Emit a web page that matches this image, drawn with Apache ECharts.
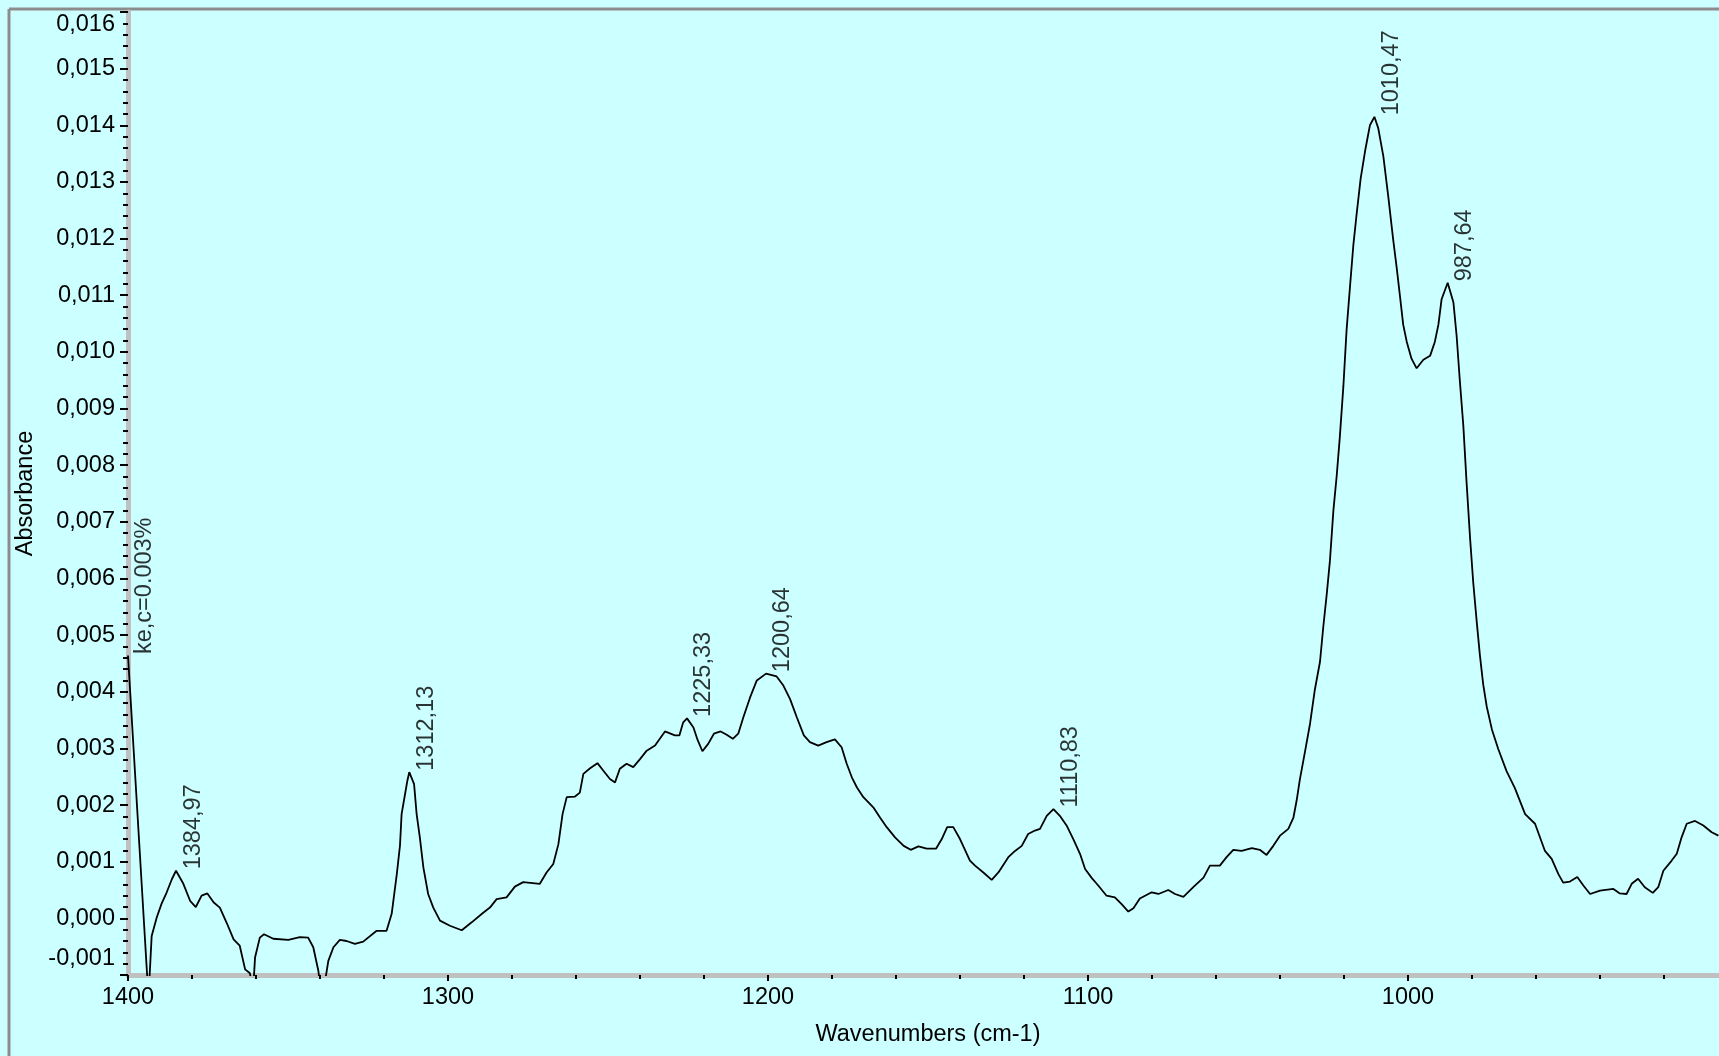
<!DOCTYPE html>
<html>
<head>
<meta charset="utf-8">
<title>Absorbance spectrum</title>
<script src="https://cdn.jsdelivr.net/npm/echarts@6/dist/echarts.min.js"></script>
<style>
  html, body { margin: 0; padding: 0; background: #ccffff; }
  #main { width: 1719px; height: 1056px; }
</style>
</head>
<body>
<div id="main"></div>
<script>
// wavenumbers (cm-1), left to right
const wavenumbers = [
  1400.0, 1393.6, 1392.6, 1391.0, 1389.5, 1387.9, 1386.3, 1385.0, 1382.7, 1380.6,
  1378.8, 1377.0, 1375.2, 1373.2, 1371.3, 1369.0, 1367.0, 1365.1, 1363.4, 1361.9,
  1360.9, 1360.3, 1358.8, 1357.5, 1354.6, 1349.9, 1346.3, 1343.7, 1342.1, 1340.5,
  1339.4, 1337.4, 1335.8, 1333.8, 1331.7, 1329.1, 1326.5, 1322.3, 1319.2, 1317.6,
  1316.0, 1315.0, 1314.5, 1313.4, 1312.7, 1312.1, 1310.6, 1309.8, 1308.8, 1307.7,
  1306.2, 1304.6, 1302.5, 1299.4, 1295.7, 1292.6, 1289.0, 1286.9, 1284.8, 1281.7,
  1279.1, 1276.5, 1271.3, 1269.2, 1267.1, 1265.5, 1264.2, 1262.9, 1260.3, 1258.8,
  1257.7, 1255.6, 1253.3, 1251.5, 1249.4, 1247.8, 1246.3, 1244.2, 1242.1, 1240.0,
  1237.9, 1235.3, 1232.2, 1229.1, 1227.7, 1226.5, 1225.3, 1223.3, 1222.0, 1220.5,
  1218.7, 1216.9, 1214.8, 1212.9, 1211.0, 1209.3, 1207.7, 1205.6, 1203.5, 1200.6,
  1197.3, 1195.2, 1193.1, 1191.0, 1188.8, 1186.9, 1184.3, 1181.7, 1179.1, 1177.0,
  1175.4, 1173.8, 1172.2, 1170.2, 1167.1, 1165.0, 1162.9, 1160.3, 1157.6, 1155.4,
  1153.0, 1150.4, 1147.5, 1145.7, 1144.0, 1142.1, 1140.0, 1138.3, 1136.9, 1135.3,
  1132.7, 1130.1, 1128.0, 1124.9, 1122.8, 1120.7, 1118.7, 1116.6, 1115.0, 1112.9,
  1110.8, 1108.8, 1106.7, 1104.6, 1102.5, 1100.9, 1098.8, 1096.8, 1094.2, 1091.6,
  1089.5, 1087.4, 1085.8, 1083.8, 1080.1, 1078.0, 1074.9, 1072.8, 1070.2, 1067.1,
  1063.9, 1061.9, 1058.8, 1056.7, 1054.6, 1052.0, 1048.8, 1046.3, 1044.2, 1042.1,
  1040.0, 1037.4, 1035.8, 1034.8, 1033.8, 1032.2, 1030.6, 1029.1, 1027.5, 1026.5,
  1025.4, 1024.4, 1023.3, 1022.3, 1021.3, 1020.2, 1019.2, 1018.1, 1017.1, 1016.0,
  1014.8, 1013.4, 1011.9, 1010.5, 1009.3, 1007.7, 1006.2, 1004.6, 1003.5, 1002.5,
  1001.5, 1000.4, 998.9, 997.3, 995.2, 993.1, 991.6, 990.5, 989.5, 987.6,
  985.8, 984.8, 983.8, 982.7, 981.7, 980.6, 979.6, 978.5, 977.5, 976.5,
  975.4, 973.8, 971.8, 969.2, 966.6, 963.4, 960.3, 957.2, 955.1, 953.0,
  951.5, 949.4, 947.1, 945.2, 943.1, 940.0, 935.8, 933.8, 931.7, 930.1,
  928.1, 926.0, 923.5, 921.8, 920.2, 917.6, 916.0, 914.5, 912.9, 910.3,
  907.7, 905.1, 903.0
];

const absorbance = [
  0.00464, -0.00140, -0.00031, 0.00002, 0.00026, 0.00046, 0.00069, 0.00084, 0.00061, 0.00031,
  0.00020, 0.00040, 0.00044, 0.00028, 0.00019, -0.00010, -0.00037, -0.00048, -0.00090, -0.00097,
  -0.00128, -0.00069, -0.00034, -0.00028, -0.00036, -0.00038, -0.00033, -0.00034, -0.00051, -0.00093,
  -0.00146, -0.00075, -0.00051, -0.00038, -0.00040, -0.00045, -0.00041, -0.00022, -0.00022, 0.00008,
  0.00078, 0.00129, 0.00184, 0.00220, 0.00243, 0.00258, 0.00237, 0.00184, 0.00143, 0.00090,
  0.00043, 0.00019, -0.00004, -0.00013, -0.00021, -0.00007, 0.00010, 0.00019, 0.00034, 0.00037,
  0.00056, 0.00064, 0.00061, 0.00081, 0.00096, 0.00131, 0.00184, 0.00214, 0.00215, 0.00222,
  0.00255, 0.00265, 0.00274, 0.00261, 0.00246, 0.00240, 0.00264, 0.00273, 0.00267, 0.00281,
  0.00296, 0.00305, 0.00330, 0.00323, 0.00323, 0.00346, 0.00353, 0.00337, 0.00315, 0.00295,
  0.00308, 0.00326, 0.00330, 0.00324, 0.00317, 0.00326, 0.00355, 0.00390, 0.00420, 0.00432,
  0.00427, 0.00411, 0.00387, 0.00355, 0.00323, 0.00311, 0.00305, 0.00311, 0.00316, 0.00302,
  0.00273, 0.00249, 0.00231, 0.00214, 0.00196, 0.00178, 0.00161, 0.00143, 0.00128, 0.00121,
  0.00127, 0.00123, 0.00123, 0.00140, 0.00161, 0.00161, 0.00140, 0.00119, 0.00102, 0.00093,
  0.00081, 0.00068, 0.00081, 0.00108, 0.00119, 0.00128, 0.00149, 0.00155, 0.00158, 0.00181,
  0.00193, 0.00181, 0.00164, 0.00140, 0.00114, 0.00087, 0.00071, 0.00058, 0.00040, 0.00037,
  0.00025, 0.00012, 0.00018, 0.00035, 0.00046, 0.00043, 0.00050, 0.00043, 0.00038, 0.00055,
  0.00072, 0.00093, 0.00093, 0.00108, 0.00121, 0.00119, 0.00124, 0.00121, 0.00112, 0.00128,
  0.00146, 0.00158, 0.00178, 0.00208, 0.00245, 0.00294, 0.00344, 0.00404, 0.00453, 0.00513,
  0.00572, 0.00631, 0.00721, 0.00780, 0.00850, 0.00939, 0.01038, 0.01117, 0.01187, 0.01246,
  0.01306, 0.01355, 0.01400, 0.01415, 0.01395, 0.01345, 0.01276, 0.01197, 0.01147, 0.01098,
  0.01048, 0.01018, 0.00988, 0.00971, 0.00986, 0.00993, 0.01018, 0.01048, 0.01093, 0.01122,
  0.01087, 0.01028, 0.00949, 0.00869, 0.00770, 0.00671, 0.00592, 0.00522, 0.00463, 0.00413,
  0.00374, 0.00334, 0.00299, 0.00260, 0.00230, 0.00184, 0.00167, 0.00119, 0.00105, 0.00078,
  0.00063, 0.00065, 0.00073, 0.00058, 0.00043, 0.00049, 0.00052, 0.00044, 0.00043, 0.00061,
  0.00070, 0.00055, 0.00045, 0.00055, 0.00084, 0.00102, 0.00114, 0.00143, 0.00167, 0.00172,
  0.00164, 0.00152, 0.00146
];

// peak picks written on the spectrum, plus the sample name at the first point
const peakX = [1400.0, 1384.97, 1312.13, 1225.33, 1200.64, 1110.83, 1010.47, 987.64];
const peakY = [0.00464, 0.00084, 0.00258, 0.00353, 0.00432, 0.00193, 0.01415, 0.01122];
const peakNames = ['ke,c=0.003%', '1384,97', '1312,13', '1225,33', '1200,64', '1110,83', '1010,47', '987,64'];

const fontName = '"Liberation Sans", Arial, sans-serif';
const fs = 23.5;

function yLabel(v) {
  if (Math.abs(v) < 1e-9) v = 0;
  return v.toFixed(3).replace('.', ',');
}

const chart = echarts.init(document.getElementById('main'), null, { renderer: 'canvas' });

const lineData = wavenumbers.map((w, i) => [w, absorbance[i]]);
const peakData = peakX.map((w, i) => [w, peakY[i]]);

chart.setOption({
  animation: false,
  backgroundColor: '#ccffff',
  textStyle: { fontFamily: fontName },
  grid: { left: 128, top: 12, right: -9, bottom: 81, containLabel: false, outerBoundsMode: 'none' },
  xAxis: {
    type: 'value',
    inverse: true,
    min: 900,
    max: 1400,
    interval: 100,
    name: 'Wavenumbers (cm-1)',
    nameLocation: 'middle',
    nameGap: 48,
    nameTextStyle: { color: '#000', fontSize: fs, fontFamily: fontName },
    axisLine: { show: true, onZero: false, lineStyle: { color: '#c0c0c0', width: 5 } },
    axisTick: { show: true, length: 6, lineStyle: { color: '#000', width: 2 } },
    minorTick: { show: true, splitNumber: 5, length: 4, lineStyle: { color: '#000', width: 2 } },
    axisLabel: {
      color: '#000', fontSize: fs, fontFamily: fontName, margin: 11,
      formatter: v => (v < 950 ? '' : String(v))
    },
    splitLine: { show: false }
  },
  yAxis: {
    type: 'value',
    min: -0.001,
    max: 0.016,
    interval: 0.001,
    name: 'Absorbance',
    nameLocation: 'middle',
    nameGap: 90,
    nameTextStyle: { color: '#000', fontSize: fs, fontFamily: fontName },
    axisLine: { show: true, onZero: false, lineStyle: { color: '#c0c0c0', width: 5 } },
    axisTick: { show: true, length: 8, lineStyle: { color: '#000', width: 2 } },
    minorTick: { show: true, splitNumber: 5, length: 5, lineStyle: { color: '#000', width: 2 } },
    axisLabel: {
      color: '#000', fontSize: fs, fontFamily: fontName, margin: 13,
      formatter: function (v) {
        const s = yLabel(v);
        if (v > 0.0159) return '{t|' + s + '}';
        if (v < -0.0009) return '{b|' + s + '}';
        return s;
      },
      rich: {
        t: { padding: [26, 0, 0, 0], fontSize: fs, fontFamily: fontName, color: '#000' },
        b: { padding: [0, 0, 32, 0], fontSize: fs, fontFamily: fontName, color: '#000' }
      }
    },
    splitLine: { show: false }
  },
  graphic: [
    { type: 'line', shape: { x1: 9, y1: 9, x2: 1719, y2: 9 }, style: { stroke: '#8c8c8c', lineWidth: 3 } },
    { type: 'line', shape: { x1: 9, y1: 9, x2: 9, y2: 1056 }, style: { stroke: '#8c8c8c', lineWidth: 3 } }
  ],
  series: [
    {
      type: 'line',
      data: lineData,
      showSymbol: false,
      clip: true,
      lineStyle: { color: '#000', width: 1.8 },
      z: 3
    },
    {
      type: 'scatter',
      data: peakData,
      symbolSize: 1,
      itemStyle: { color: 'transparent' },
      clip: false,
      label: {
        show: true,
        position: 'top',
        distance: 1,
        rotate: 90,
        align: 'left',
        verticalAlign: 'top',
        offset: [0, 5],
        color: '#000',
        fontSize: fs,
        fontFamily: fontName,
        formatter: p => peakNames[p.dataIndex]
      },
      z: 4
    }
  ]
});
</script>
</body>
</html>
